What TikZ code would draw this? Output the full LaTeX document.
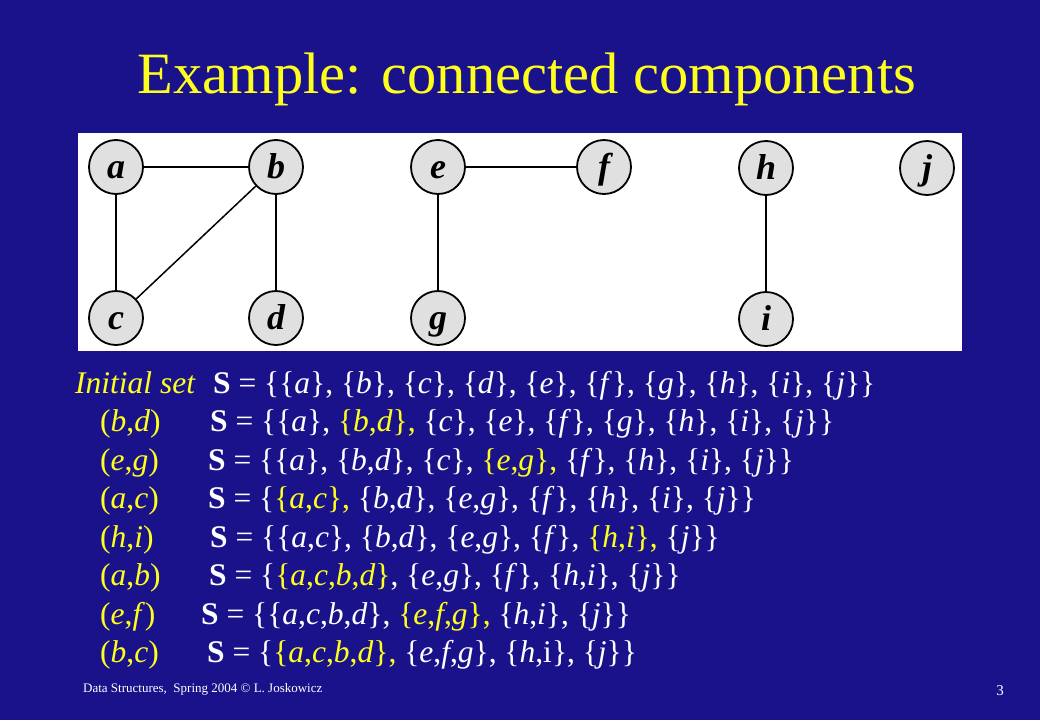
\documentclass[tikz,border=0pt]{standalone}
\usepackage{fontspec}
\setmainfont{Liberation Serif}
\definecolor{bg}{RGB}{26,18,138}
\definecolor{ylw}{RGB}{255,255,30}
\definecolor{nodefill}{RGB}{224,224,224}
\newcommand\Yl[1]{\textcolor{ylw}{#1}}
\newcommand\Iv[1]{\textit{#1}}
\tikzset{
  vtx/.style={circle, draw=black, line width=1.8pt, fill=nodefill, minimum size=54pt, inner sep=0pt,
    text height=22pt, text depth=0pt,
    font=\fontsize{36}{36}\selectfont\bfseries\itshape},
  edge/.style={draw=black, line width=1.5pt},
  lbl/.style={anchor=base west, inner sep=0pt, text=ylw, font=\fontsize{31.5}{34}\selectfont},
  setline/.style={anchor=base west, inner sep=0pt, text=white, font=\fontsize{31.5}{34}\selectfont},
}
\begin{document}
\begin{tikzpicture}[x=1pt,y=-1pt]
\useasboundingbox (0,0) rectangle (1040,720);
\fill[bg] (0,0) rectangle (1040,720);
\node[anchor=base, inner sep=0pt, text=ylw, font=\fontsize{58.5}{70}\selectfont] (title) at (527,93) {Example: connected components};
\fill[white] (78,133) rectangle (962,351);
% vertices
\node[vtx] (a) at (116,167) {a};
\node[vtx] (b) at (276,167) {b};
\node[vtx] (c) at (116,318) {c};
\node[vtx] (d) at (276,318) {d};
\node[vtx] (e) at (438,167) {e};
\node[vtx] (f) at (604,167) {f};
\node[vtx] (g) at (438,318) {g};
\node[vtx] (h) at (766,168) {h};
\node[vtx] (i) at (766,319) {i};
\node[vtx] (j) at (927,168) {j};
\draw[edge] (a) -- (b);
\draw[edge] (a) -- (c);
\draw[edge] (b) -- (c);
\draw[edge] (b) -- (d);
\draw[edge] (e) -- (f);
\draw[edge] (e) -- (g);
\draw[edge] (h) -- (i);
% lines
\node[lbl] (l1) at (75,393) {\Iv{Initial set}};
\node[setline] (s1) at (213,393) {\textbf{S} = \{\{\Iv{a}\}, \{\Iv{b}\}, \{\Iv{c}\}, \{\Iv{d}\}, \{\Iv{e}\}, \{\Iv{f}\}, \{\Iv{g}\}, \{\Iv{h}\}, \{\Iv{i}\}, \{\Iv{j}\}\}};
\node[lbl] (l2) at (100,431) {(\Iv{b},\Iv{d})};
\node[setline] (s2) at (210,431) {\textbf{S} = \{\{\Iv{a}\}, \Yl{\{\Iv{b},\Iv{d}\},} \{\Iv{c}\}, \{\Iv{e}\}, \{\Iv{f}\}, \{\Iv{g}\}, \{\Iv{h}\}, \{\Iv{i}\}, \{\Iv{j}\}\}};
\node[lbl] (l3) at (100,470) {(\Iv{e},\Iv{g})};
\node[setline] (s3) at (208,470) {\textbf{S} = \{\{\Iv{a}\}, \{\Iv{b},\Iv{d}\}, \{\Iv{c}\}, \Yl{\{\Iv{e},\Iv{g}\},} \{\Iv{f}\}, \{\Iv{h}\}, \{\Iv{i}\}, \{\Iv{j}\}\}};
\node[lbl] (l4) at (100,508) {(\Iv{a},\Iv{c})};
\node[setline] (s4) at (208,508) {\textbf{S} = \{\Yl{\{\Iv{a},\Iv{c}\},} \{\Iv{b},\Iv{d}\}, \{\Iv{e},\Iv{g}\}, \{\Iv{f}\}, \{\Iv{h}\}, \{\Iv{i}\}, \{\Iv{j}\}\}};
\node[lbl] (l5) at (100,547) {(\Iv{h},\Iv{i})};
\node[setline] (s5) at (210,547) {\textbf{S} = \{\{\Iv{a},\Iv{c}\}, \{\Iv{b},\Iv{d}\}, \{\Iv{e},\Iv{g}\}, \{\Iv{f}\}, \Yl{\{\Iv{h},\Iv{i}\},} \{\Iv{j}\}\}};
\node[lbl] (l6) at (100,585) {(\Iv{a},\Iv{b})};
\node[setline] (s6) at (209,585) {\textbf{S} = \{\Yl{\{\Iv{a},\Iv{c},\Iv{b},\Iv{d}\}}, \{\Iv{e},\Iv{g}\}, \{\Iv{f}\}, \{\Iv{h},\Iv{i}\}, \{\Iv{j}\}\}};
\node[lbl] (l7) at (100,624) {(\Iv{e},\Iv{f})};
\node[setline] (s7) at (201,624) {\textbf{S} = \{\{\Iv{a},\Iv{c},\Iv{b},\Iv{d}\}, \Yl{\{\Iv{e},\Iv{f},\Iv{g}\},} \{\Iv{h},\Iv{i}\}, \{\Iv{j}\}\}};
\node[lbl] (l8) at (100,662) {(\Iv{b},\Iv{c})};
\node[setline] (s8) at (207,662) {\textbf{S} = \{\Yl{\{\Iv{a},\Iv{c},\Iv{b},\Iv{d}\},} \{\Iv{e},\Iv{f},\Iv{g}\}, \{\Iv{h},i\}, \{\Iv{j}\}\}};
% footer
\node[anchor=base west, inner sep=0pt, text=white, font=\fontsize{13}{14}\selectfont] (foot) at (83,692) {Data Structures,\ \ Spring 2004 \textcopyright\ L. Joskowicz};
\node[anchor=base, inner sep=0pt, text=white, font=\fontsize{15}{16}\selectfont] (pnum) at (1000,695) {3};
\end{tikzpicture}
\end{document}
